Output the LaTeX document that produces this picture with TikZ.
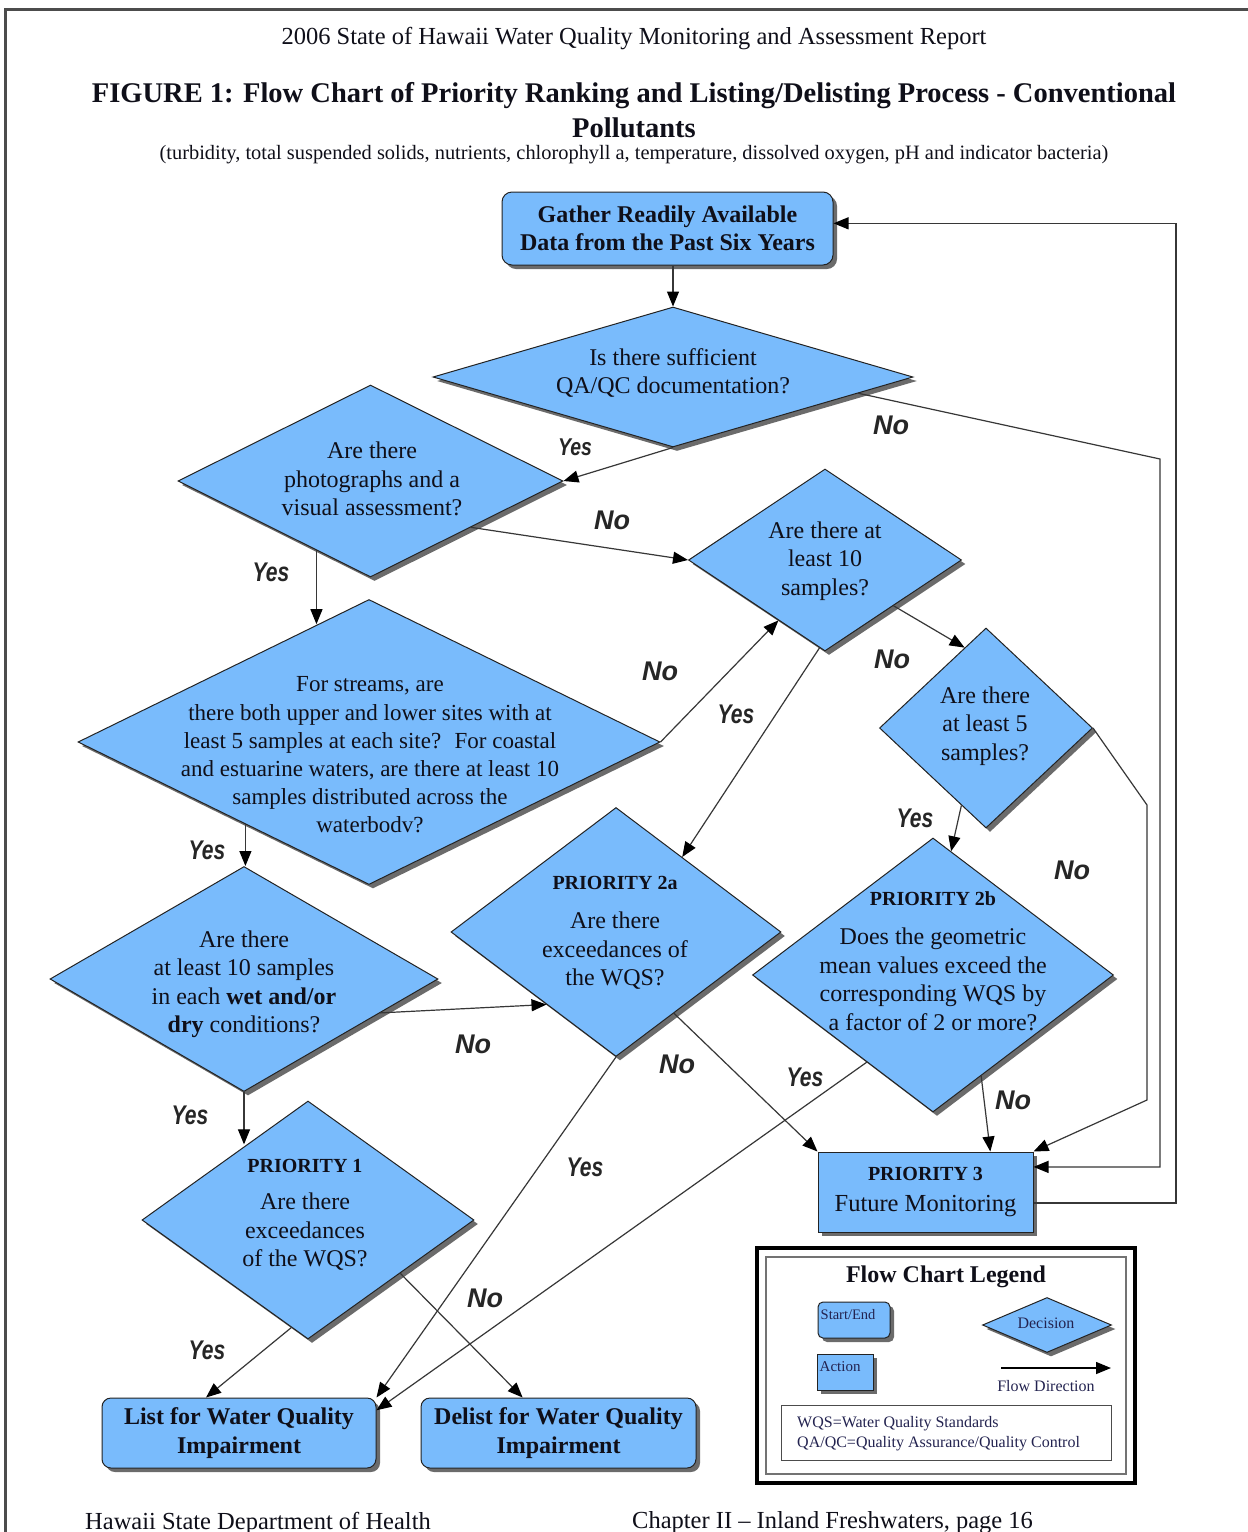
\documentclass[tikz,border=0pt]{standalone}
\usepackage{fontspec}
\usepackage{graphicx}
\setmainfont{Liberation Serif}
\newfontfamily\ynfont{Liberation Sans}
\usetikzlibrary{shapes.geometric,arrows.meta,calc,shadows}

\definecolor{boxblue}{RGB}{121,187,252}
\definecolor{edgec}{RGB}{35,35,35}
\definecolor{wirec}{RGB}{55,55,55}
\definecolor{textc}{RGB}{15,15,25}
\definecolor{legc}{RGB}{35,35,80}

\begin{document}
\begin{tikzpicture}[x=1pt,y=-1pt,
  shade/.style={drop shadow={shadow xshift=4pt,shadow yshift=-4pt,fill=black!58,opacity=1}},
  dia/.style={shape=diamond,draw=edgec,line width=1pt,fill=boxblue,inner sep=0pt,shade},
  startbox/.style={shape=rectangle,rounded corners=10pt,draw=edgec,line width=1pt,fill=boxblue,
    inner sep=0pt,align=center,shade,text=textc},
  actbox/.style={shape=rectangle,draw=edgec,line width=1pt,fill=boxblue,inner sep=0pt,
    align=center,shade,text=textc},
  dtxt/.style={align=center,inner sep=0pt,text=textc,font=\fontsize{24}{28.5}\selectfont},
  btxt/.style={font=\bfseries\fontsize{24}{28.5}\selectfont},
  flow/.style={draw=wirec,line width=1.2pt,-{Triangle[length=15pt,width=12pt,color=black]}},
  yn/.style={inner sep=0pt,text=black!85,font=\ynfont\bfseries\itshape\fontsize{27}{27}\selectfont},
  ptitle/.style={inner sep=0pt,text=textc},
]
\useasboundingbox (0,0) rectangle (1248,1532);
\fill[white] (0,0) rectangle (1248,1532);

% page frame
\draw[line width=3pt,black!70] (5,1532) -- (5,9) -- (1248,9);

% header
\node[ptitle,font=\fontsize{24.5}{28}\selectfont] (hdr) at (634,39)
  {2006 State of Hawaii Water Quality Monitoring and Assessment Report};
\node[ptitle,font=\bfseries\fontsize{28.5}{32}\selectfont] (ttl1) at (634,96)
  {FIGURE 1: Flow Chart of Priority Ranking and Listing/Delisting Process - Conventional};
\node[ptitle,font=\bfseries\fontsize{28.5}{32}\selectfont] (ttl2) at (634,128) {Pollutants};
\node[ptitle,font=\fontsize{20.4}{24}\selectfont] (sub) at (634,155)
  {(turbidity, total suspended solids, nutrients, chlorophyll a, temperature, dissolved oxygen, pH and indicator bacteria)};

% boxes
\node[startbox,minimum width=331pt,minimum height=73pt,btxt] (gather) at (667.5,228.5)
  {Gather Readily Available\\Data from the Past Six Years};
\node[actbox,minimum width=215pt,minimum height=80pt] (p3) at (925.5,1192)
  {{\bfseries\fontsize{20}{20}\selectfont PRIORITY 3}\\[14pt]{\fontsize{24.5}{26}\selectfont Future Monitoring}};
\node[startbox,rounded corners=9pt,minimum width=274pt,minimum height=70pt,btxt] (list) at (239,1433)
  {List for Water Quality\\Impairment};
\node[startbox,rounded corners=9pt,minimum width=275pt,minimum height=70pt,btxt] (delist) at (558.5,1433)
  {Delist for Water Quality\\Impairment};

% decisions
\node[dia,minimum width=480pt,minimum height=140pt] (qa) at (673,377) {};
\node[dtxt] (qa-t) at (673,373) {Is there sufficient\\QA/QC documentation?};

\node[dia,minimum width=385pt,minimum height=192pt] (photo) at (370.5,481) {};
\node[dtxt] (photo-t) at (372,479) {Are there\\photographs and a\\visual assessment?};

\node[dia,minimum width=273pt,minimum height=182pt] (s10) at (825,560) {};
\node[dtxt] (s10-t) at (825,561) {Are there at\\least 10\\samples?};

\node[dia,minimum width=582pt,minimum height=285pt] (streams) at (369,742) {};
\node[dtxt,font=\fontsize{23}{28.2}\selectfont] (streams-t) at (370,755)
  {For streams, are\\there both upper and lower sites with at\\least 5 samples at each site?~ For coastal\\and estuarine waters, are there at least 10\\samples distributed across the\\waterbodv?};

\node[dia,minimum width=213pt,minimum height=200pt] (a5) at (986,728) {};
\node[dtxt] (a5-t) at (985,726) {Are there\\at least 5\\samples?};

\node[dia,minimum width=330pt,minimum height=249pt] (p2a) at (616,932) {};
\node[dtxt] (p2a-t) at (615,933)
  {{\bfseries\fontsize{20}{20}\selectfont PRIORITY 2a}\\[11pt]Are there\\exceedances of\\the WQS?};

\node[dia,minimum width=361pt,minimum height=274pt] (p2b) at (933,975) {};
\node[dtxt] (p2b-t) at (933,961)
  {{\bfseries\fontsize{20}{20}\selectfont PRIORITY 2b}\\[11pt]Does the geometric\\mean values exceed the\\corresponding WQS by\\a factor of 2 or more?};

\node[dia,minimum width=388pt,minimum height=225pt] (wd) at (244,979) {};
\node[dtxt] (wd-t) at (244,984)
  {Are there\\at least 10 samples\\in each \textbf{wet and/or}\\\textbf{dry} conditions?};

\node[dia,minimum width=332pt,minimum height=238pt] (p1) at (308,1220) {};
\node[dtxt] (p1-t) at (305,1215)
  {{\bfseries\fontsize{20}{20}\selectfont PRIORITY 1}\\[9pt]Are there\\exceedances\\of the WQS?};

% connectors
\draw[flow] (gather.south -| qa.north) -- (qa.north);
\draw[flow] (qa.south) -- (photo.east);
\coordinate (qa-no) at ($(qa.east)!0.23!(qa.south)$);
\coordinate (bendA) at (1160,459);
\draw[flow] (qa-no) -- (bendA) |- ($(p3.north east)!0.19!(p3.south east)$);
\draw[flow] ($(photo.east)!0.48!(photo.south)$) -- (s10.west);
\coordinate (ph-yes) at ($(photo.west)!0.72!(photo.south)$);
\coordinate (st-in) at ($(streams.west)!0.824!(streams.north)$);
\draw[flow] (ph-yes) -- (ph-yes |- st-in);
\draw[flow] (streams.east) -- ($(s10.west)!0.66!(s10.south)$);
\draw[flow] ($(s10.south)!0.04!(s10.west)$) -- ($(p2a.north)!0.4!(p2a.east)$);
\draw[flow] ($(s10.east)!0.5!(s10.south)$) -- ($(a5.west)!0.8!(a5.north)$);
\draw[flow] ($(a5.west)!0.77!(a5.south)$) -- ($(p2b.north)!0.1!(p2b.east)$);
\coordinate (bendB1) at (1147,805);
\coordinate (bendB2) at (1147,1100);
\draw[flow] (a5.east) -- (bendB1) -- (bendB2) -- (p3.north east);
\coordinate (st-yes) at ($(streams.west)!0.576!(streams.south)$);
\draw[flow] (st-yes) -- (st-yes |- wd.north);
\draw[flow] ($(wd.east)!0.3!(wd.south)$) -- ($(p2a.west)!0.58!(p2a.south)$);
\coordinate (p1-in) at ($(p1.west)!0.633!(p1.north)$);
\draw[flow] (wd.south) -- (wd.south |- p1-in);
\draw[flow] ($(p1.west)!0.9!(p1.south)$) -- ($(list.north west)!0.38!(list.north east)$);
\draw[flow] ($(p1.east)!0.446!(p1.south)$) -- ($(delist.north west)!0.37!(delist.north east)$);
\draw[flow] (p2a.south) -- (list.north east);
\draw[flow] ($(p2b.west)!0.634!(p2b.south)$) -- ($(list.north east)!0.18!(list.south east)$);
\draw[flow] ($(p2a.east)!0.65!(p2a.south)$) -- (p3.north west);
\draw[flow] ($(p2b.east)!0.734!(p2b.south)$) -- ($(p3.north west)!0.8!(p3.north east)$);
\coordinate (p3-out) at ($(p3.east)+(0,11)$);
\coordinate (g-in) at ($(gather.north east)!0.43!(gather.south east)$);
\coordinate (retx) at (1176,223);
\draw[flow] (p3-out) -| (retx |- g-in) -- (g-in);

% yes / no labels
\node[yn] (l1) at (575,447) {\scalebox{0.72}[0.9]{Yes}};
\node[yn] (l2) at (891,425) {No};
\node[yn] (l3) at (612,520) {No};
\node[yn] (l4) at (271,572) {\scalebox{0.78}[1]{Yes}};
\node[yn] (l5) at (660,671) {No};
\node[yn] (l6) at (736,714) {\scalebox{0.78}[1]{Yes}};
\node[yn] (l7) at (892,659) {No};
\node[yn] (l8) at (915,818) {\scalebox{0.78}[1]{Yes}};
\node[yn] (l9) at (1072,870) {No};
\node[yn] (l10) at (207,850) {\scalebox{0.78}[1]{Yes}};
\node[yn] (l11) at (473,1044) {No};
\node[yn] (l12) at (190,1115) {\scalebox{0.78}[1]{Yes}};
\node[yn] (l13) at (677,1064) {No};
\node[yn] (l14) at (805,1077) {\scalebox{0.78}[1]{Yes}};
\node[yn] (l15) at (1013,1100) {No};
\node[yn] (l16) at (585,1167) {\scalebox{0.78}[1]{Yes}};
\node[yn] (l17) at (485,1298) {No};
\node[yn] (l18) at (207,1350) {\scalebox{0.78}[1]{Yes}};

% legend
\node[draw=black,line width=4.5pt,minimum width=378pt,minimum height=235pt,inner sep=0pt] (legend) at (946,1365.5) {};
\node[draw=black!55,line width=1.3pt,minimum width=360pt,minimum height=217pt,inner sep=0pt] (legend-in) at (946,1365.5) {};
\node[inner sep=0pt,text=textc,font=\bfseries\fontsize{24}{26}\selectfont] (lg-title) at (946,1277) {Flow Chart Legend};
\node[startbox,rounded corners=5pt,minimum width=72pt,minimum height=36pt] (lg-start) at (854,1320) {};
\node[anchor=north west,inner sep=0pt,text=legc,font=\fontsize{14.5}{16}\selectfont] (lg-start-t) at ($(lg-start.north west)+(3,8)$) {Start/End};
\node[actbox,minimum width=56pt,minimum height=36pt] (lg-act) at (845,1372) {};
\node[anchor=north west,inner sep=0pt,text=legc,font=\fontsize{15}{16}\selectfont] (lg-act-t) at ($(lg-act.north west)+(3,8)$) {Action};
\node[dia,minimum width=129pt,minimum height=55pt] (lg-dec) at (1047,1325) {};
\node[inner sep=0pt,text=legc,font=\fontsize{16}{18}\selectfont] (lg-dec-t) at (1046,1323) {Decision};
\coordinate (lg-a) at (1001,1368);
\coordinate (lg-b) at (1111,1368);
\draw[flow,draw=black,line width=1.4pt] (lg-a) -- (lg-b);
\node[inner sep=0pt,text=legc,font=\fontsize{16}{18}\selectfont] (lg-flow-t) at (1046,1386) {Flow Direction};
\node[draw=black!70,line width=1pt,minimum width=330pt,minimum height=55pt,inner sep=0pt] (lg-abbr) at (946,1432.5) {};
\node[anchor=west,inner sep=0pt,align=left,text=legc,font=\fontsize{16}{20}\selectfont] (lg-abbr-t) at (797,1434)
  {WQS=Water Quality Standards\\QA/QC=Quality Assurance/Quality Control};

% footer
\node[anchor=west,inner sep=0pt,text=textc,font=\fontsize{24.5}{28}\selectfont] (foot-l) at (85,1523) {Hawaii State Department of Health};
\node[anchor=west,inner sep=0pt,text=textc,font=\fontsize{24.5}{28}\selectfont] (foot-r) at (632,1523) {Chapter II -- Inland Freshwaters, page 16};
\end{tikzpicture}
\end{document}
